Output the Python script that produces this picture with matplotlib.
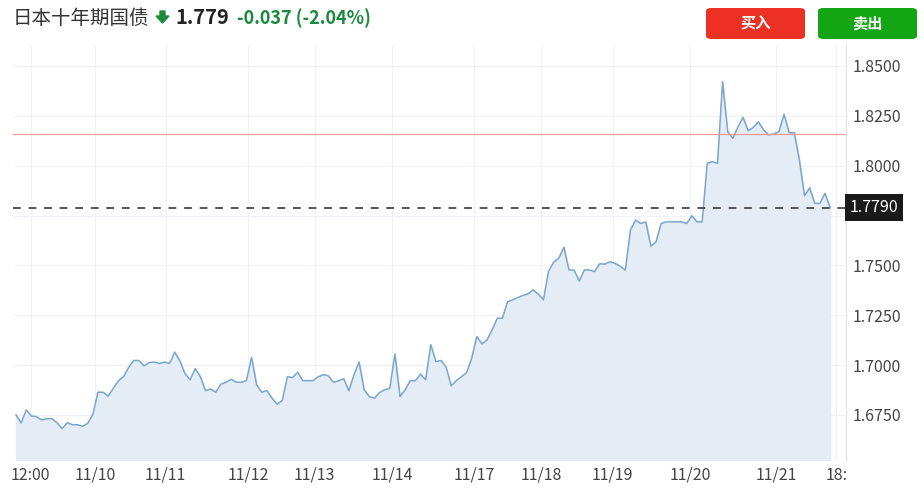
import numpy as np
import matplotlib.pyplot as plt
from matplotlib.patches import FancyBboxPatch, Polygon

plt.rcParams['font.family'] = ['Noto Sans CJK SC', 'DejaVu Sans']

# Datos (rendimiento bono japones a 10 anos)
valores = [
    1.6750, 1.6710, 1.6775, 1.6745, 1.6741, 1.6725, 1.6731, 1.6731, 1.6711, 1.6681,
    1.6711, 1.6701, 1.6701, 1.6693, 1.6708, 1.6752, 1.6864, 1.6864, 1.6844, 1.6884,
    1.6921, 1.6942, 1.6989, 1.7023, 1.7023, 1.6996, 1.7013, 1.7015, 1.7008, 1.7015,
    1.7008, 1.7065, 1.7021, 1.6957, 1.6926, 1.6982, 1.6942, 1.6872, 1.6880, 1.6864,
    1.6904, 1.6914, 1.6929,
    1.6914, 1.6914, 1.6922, 1.7039, 1.6901, 1.6864, 1.6872, 1.6834, 1.6804, 1.6822,
    1.6942, 1.6937, 1.6964, 1.6922, 1.6922, 1.6922, 1.6941, 1.6952, 1.6946, 1.6914,
    1.6921, 1.6932, 1.6871, 1.6951, 1.7015, 1.6876, 1.6842, 1.6834, 1.6862, 1.6876,
    1.6884, 1.7056, 1.6842, 1.6876, 1.6922, 1.6922, 1.6954, 1.6926, 1.7102, 1.7018,
    1.7023,
    1.6990, 1.6896, 1.6922, 1.6942, 1.6962, 1.7035, 1.7143, 1.7106, 1.7126, 1.7177,
    1.7235, 1.7235, 1.7318, 1.7327, 1.7339, 1.7349, 1.7357, 1.7377, 1.7356, 1.7327,
    1.7469, 1.7516, 1.7536, 1.7591, 1.7477, 1.7476, 1.7421, 1.7477, 1.7477, 1.7469,
    1.7508,
    1.7506, 1.7518, 1.7510, 1.7496, 1.7476, 1.7677, 1.7727, 1.7710, 1.7718, 1.7596,
    1.7618, 1.7710, 1.7718, 1.7718, 1.7718, 1.7718, 1.7710, 1.7749, 1.7718, 1.7718,
    1.8012, 1.8020, 1.8012, 1.8421, 1.8170, 1.8137, 1.8195, 1.8242, 1.8175, 1.8192,
    1.8220, 1.8179, 1.8154, 1.8159, 1.8170, 1.8258, 1.8165, 1.8165, 1.8028, 1.7849,
    1.7889, 1.7811, 1.7811, 1.7861, 1.7790,
]
precio_actual = 1.779
cierre_anterior = 1.816
etiquetas_x = ['12:00', '11/10', '11/11', '11/12', '11/13', '11/14',
               '11/17', '11/18', '11/19', '11/20', '11/21', '18:']
posiciones_x = [2.9, 15.4, 29.2, 45.4, 58.3, 73.5, 89.5, 102.5, 116.5, 131.6, 148.4, 160.2]
ticks_y = [1.675, 1.700, 1.725, 1.750, 1.775, 1.800, 1.825, 1.850]

x = np.arange(len(valores))

fig = plt.figure(figsize=(9.24, 5), dpi=100)
ax = fig.add_axes([13 / 924, 40 / 500, (846 - 13) / 924, (460 - 45) / 500])

# Area y linea
ax.fill_between(x, valores, 1.6524, color='#e4edf6', zorder=1)
ax.plot(x, valores, color='#7aa6cb', lw=1.1, zorder=2)

# Lineas de referencia
ax.axhline(cierre_anterior, color='#f19a9a', lw=0.9, zorder=2)
ax.axhline(precio_actual, color='#555555', lw=1.4, ls=(0, (4, 4)), zorder=2)

ax.set_xlim(-0.59, 162.1)
ax.set_ylim(1.6524, 1.8605)
ax.set_xticks(posiciones_x)
ax.set_xticklabels(etiquetas_x)
ax.set_yticks(ticks_y)
# la etiqueta 1.7750 queda tapada por el recuadro del precio actual
ax.set_yticklabels(['' if v == 1.775 else f'{v:.4f}' for v in ticks_y])
ax.yaxis.tick_right()
ax.tick_params(axis='both', length=0, labelsize=11.5, colors='#444444')
ax.tick_params(axis='y', pad=5)
ax.tick_params(axis='x', pad=5)
ax.grid(True, color='#eef1f5', lw=0.8, zorder=0)
ax.set_axisbelow(True)
for lado in ['top', 'left', 'bottom']:
    ax.spines[lado].set_visible(False)
ax.spines['right'].set_color('#e3e3e3')

# Etiqueta del precio actual
ax.text(1.004, precio_actual, '1.7790', transform=ax.get_yaxis_transform(),
        ha='left', va='center', color='white', fontsize=11.5, zorder=10,
        bbox=dict(boxstyle='square,pad=0.3', fc='#1a1a1a', ec='none'), clip_on=False)

# Titulo
fig.text(13 / 924, 1 - 18 / 500, '日本十年期国债', fontsize=14, color='#333333',
         ha='left', va='center')
flecha = Polygon([[160, 11], [165, 11], [165, 16], [169, 16], [162.5, 23], [156, 16], [160, 16]],
                 closed=True, transform=None, color='#1b8a3c')
flecha.set_xy([[px, 500 - py] for px, py in flecha.get_xy()])
fig.patches.append(flecha)
fig.text(175 / 924, 1 - 18 / 500, '1.779', fontsize=14.5, fontweight='bold',
         color='#222222', ha='left', va='center')
fig.text(237 / 924, 1 - 18 / 500, '-0.037 (-2.04%)', fontsize=13, fontweight='bold',
         color='#1b8a3c', ha='left', va='center')

# Botones
for x0, color, texto in [(706, '#ea3124', '买入'), (818, '#13a513', '卖出')]:
    boton = FancyBboxPatch((x0 / 924, 1 - 39 / 500), 99 / 924, 31 / 500,
                           boxstyle='round,pad=0,rounding_size=0.006',
                           transform=fig.transFigure, fc=color, ec='none')
    fig.patches.append(boton)
    fig.text((x0 + 49.5) / 924, 1 - 23.5 / 500, texto, fontsize=11,
             fontweight='bold', color='white', ha='center', va='center')

plt.savefig('out.png', dpi=100)
